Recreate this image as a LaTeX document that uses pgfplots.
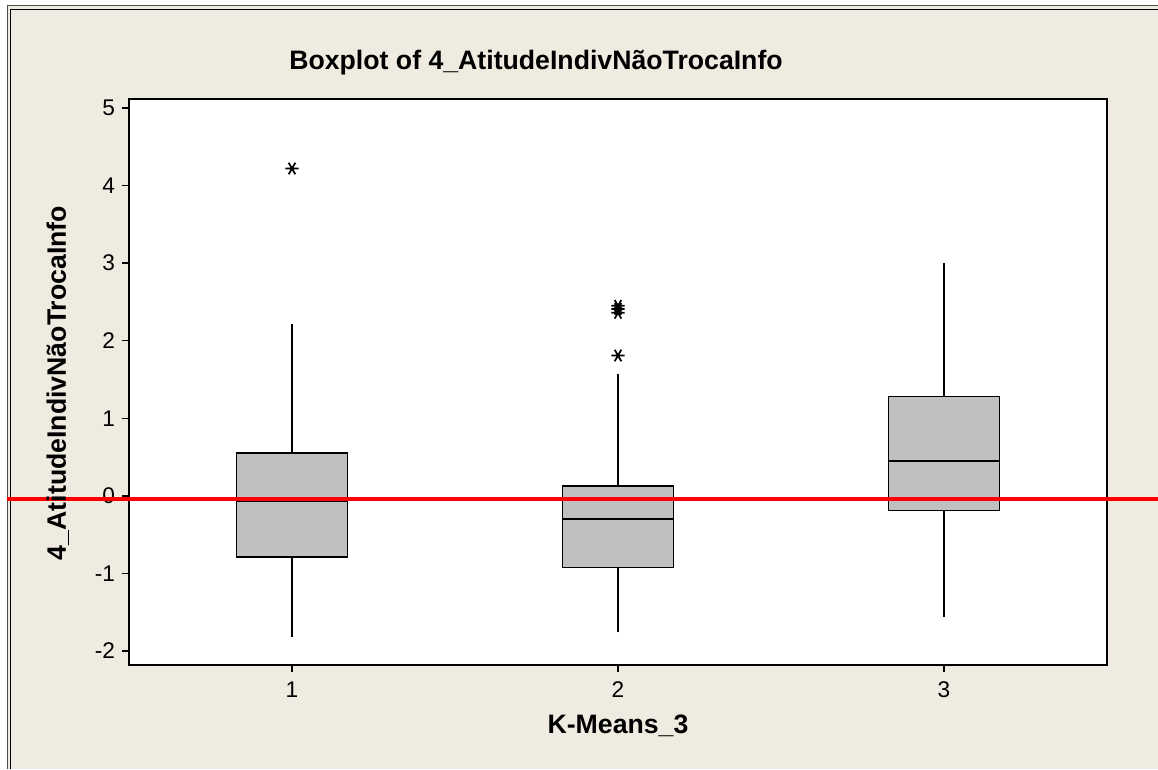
\documentclass[border=0pt]{standalone}
\usepackage{pgfplots}
\pgfplotsset{compat=1.18}
\usepgfplotslibrary{statistics}
\usepackage{fontspec}
\setmainfont{Liberation Sans}
\definecolor{bg}{RGB}{239,235,225}
\definecolor{boxgray}{RGB}{192,192,192}
\begin{document}
\begin{tikzpicture}[x=0.75pt,y=0.75pt]
\useasboundingbox (0,0) rectangle (1158,769);
\clip (0,0) rectangle (1158,769);
\fill[white] (0,0) rectangle (1158,769);
\fill[bg] (8,0) rectangle (1158,763);
\draw[black!70, line width=0.6pt] (7.5,0) -- (7.5,763.5) -- (1158,763.5);
\draw[black, line width=1.2pt] (10.5,0) -- (10.5,759.5) -- (1158,759.5);
\begin{axis}[
  at={(129pt*0.75,104pt*0.75)}, anchor=south west,
  scale only axis, width=733.5pt, height=424.5pt,
  xmin=0.5, xmax=3.5, ymin=-2.18, ymax=5.116,
  xtick={1,2,3}, ytick={-2,-1,0,1,2,3,4,5},
  tick pos=left, tick align=outside, major tick length=5pt,
  axis line style={line width=1.1pt},
  every tick/.style={black, line width=1.1pt},
  axis background/.style={fill=white},
  tick label style={font=\fontsize{17}{19}\selectfont},
  xticklabel style={yshift=-4pt},
  yticklabel style={xshift=-2pt},
  /pgf/number format/assume math mode=true,
  clip=false,
  boxplot/draw direction=y,
  boxplot/box extend=0.34,
  boxplot/whisker extend=0,
]
\addplot[draw=black, fill=boxgray, line width=1.1pt, mark=asterisk, mark size=5pt,
  mark options={rotate=90, line width=1.3pt},
  boxplot prepared={draw position=1, lower whisker=-1.82, lower quartile=-0.79,
    median=-0.07, upper quartile=0.55, upper whisker=2.22}]
  table[row sep=\\, y index=0] {4.22\\};
\addplot[draw=black, fill=boxgray, line width=1.1pt, mark=asterisk, mark size=5pt,
  mark options={rotate=90, line width=1.3pt},
  boxplot prepared={draw position=2, lower whisker=-1.76, lower quartile=-0.92,
    median=-0.30, upper quartile=0.13, upper whisker=1.57}]
  table[row sep=\\, y index=0] {1.81\\ 2.36\\ 2.41\\ 2.45\\};
\addplot[draw=black, fill=boxgray, line width=1.1pt,
  boxplot prepared={draw position=3, lower whisker=-1.56, lower quartile=-0.19,
    median=0.45, upper quartile=1.28, upper whisker=3.00}]
  coordinates {};
\addplot[red, line width=3pt, forget plot] coordinates {(0.126,-0.04) (3.7,-0.04)};
\end{axis}
\node[anchor=base, font=\fontsize{20}{22}\selectfont\bfseries] at (536,699) {Boxplot of 4\_AtitudeIndivNãoTrocaInfo};
\node[anchor=base, font=\fontsize{20}{22}\selectfont\bfseries] at (618,36) {K-Means\_3};
\node[rotate=90, anchor=base, font=\fontsize{20}{22}\selectfont\bfseries] at (66,386) {4\_AtitudeIndivNãoTrocaInfo};
\end{tikzpicture}
\end{document}
